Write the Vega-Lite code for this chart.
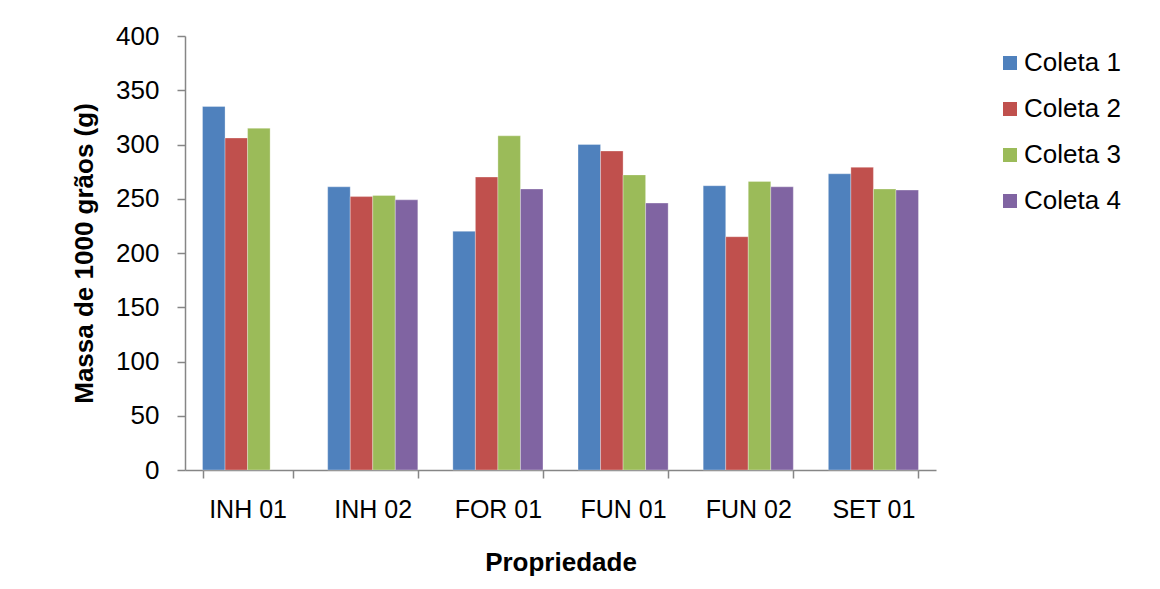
{
  "$schema": "https://vega.github.io/schema/vega-lite/v6.json",
  "autosize": {"type": "none"},
  "width": 751,
  "height": 434,
  "padding": {"left": 185, "top": 36, "right": 224, "bottom": 119},
  "background": "white",
  "data": {
    "values": [
      {"Propriedade": "INH 01", "Coleta": "Coleta 1", "Massa": 335},
      {"Propriedade": "INH 01", "Coleta": "Coleta 2", "Massa": 306},
      {"Propriedade": "INH 01", "Coleta": "Coleta 3", "Massa": 315},
      {"Propriedade": "INH 02", "Coleta": "Coleta 1", "Massa": 261},
      {"Propriedade": "INH 02", "Coleta": "Coleta 2", "Massa": 252},
      {"Propriedade": "INH 02", "Coleta": "Coleta 3", "Massa": 253},
      {"Propriedade": "INH 02", "Coleta": "Coleta 4", "Massa": 249},
      {"Propriedade": "FOR 01", "Coleta": "Coleta 1", "Massa": 220},
      {"Propriedade": "FOR 01", "Coleta": "Coleta 2", "Massa": 270},
      {"Propriedade": "FOR 01", "Coleta": "Coleta 3", "Massa": 308},
      {"Propriedade": "FOR 01", "Coleta": "Coleta 4", "Massa": 259},
      {"Propriedade": "FUN 01", "Coleta": "Coleta 1", "Massa": 300},
      {"Propriedade": "FUN 01", "Coleta": "Coleta 2", "Massa": 294},
      {"Propriedade": "FUN 01", "Coleta": "Coleta 3", "Massa": 272},
      {"Propriedade": "FUN 01", "Coleta": "Coleta 4", "Massa": 246},
      {"Propriedade": "FUN 02", "Coleta": "Coleta 1", "Massa": 262},
      {"Propriedade": "FUN 02", "Coleta": "Coleta 2", "Massa": 215},
      {"Propriedade": "FUN 02", "Coleta": "Coleta 3", "Massa": 266},
      {"Propriedade": "FUN 02", "Coleta": "Coleta 4", "Massa": 261},
      {"Propriedade": "SET 01", "Coleta": "Coleta 1", "Massa": 273},
      {"Propriedade": "SET 01", "Coleta": "Coleta 2", "Massa": 279},
      {"Propriedade": "SET 01", "Coleta": "Coleta 3", "Massa": 259},
      {"Propriedade": "SET 01", "Coleta": "Coleta 4", "Massa": 258}
    ]
  },
  "mark": {"type": "bar", "stroke": "white", "strokeWidth": 0.5, "strokeOpacity": 0.6},
  "encoding": {
    "x": {
      "field": "Propriedade",
      "type": "nominal",
      "sort": ["INH 01", "INH 02", "FOR 01", "FUN 01", "FUN 02", "SET 01"],
      "scale": {"paddingInner": 0.28, "paddingOuter": 0.14},
      "axis": {
        "title": "Propriedade",
        "labelAngle": 0,
        "labelFontSize": 25,
        "labelPadding": 19,
        "titleFontSize": 26,
        "titleFontWeight": "bold",
        "titlePadding": 27,
        "bandPosition": 0,
        "tickBand": "extent"
      }
    },
    "xOffset": {
      "field": "Coleta",
      "type": "nominal",
      "scale": {"paddingInner": 0, "paddingOuter": 0}
    },
    "y": {
      "field": "Massa",
      "type": "quantitative",
      "scale": {"domain": [0, 400]},
      "axis": {
        "title": "Massa de 1000 grãos (g)",
        "values": [0, 50, 100, 150, 200, 250, 300, 350, 400],
        "grid": false,
        "labelFontSize": 26,
        "labelPadding": 18,
        "titleFontSize": 26,
        "titleFontWeight": "bold",
        "titlePadding": 18
      }
    },
    "color": {
      "field": "Coleta",
      "type": "nominal",
      "scale": {
        "domain": ["Coleta 1", "Coleta 2", "Coleta 3", "Coleta 4"],
        "range": ["#4F81BD", "#C0504D", "#9BBB59", "#8064A2"]
      },
      "legend": {
        "title": null,
        "orient": "none",
        "legendX": 812,
        "legendY": 14,
        "symbolType": "square",
        "symbolSize": 196,
        "symbolStrokeWidth": 0,
        "labelFontSize": 26,
        "labelColor": "black",
        "labelOffset": 1,
        "rowPadding": 20
      }
    }
  },
  "config": {
    "font": "Liberation Sans",
    "view": {"stroke": null},
    "axis": {
      "domainColor": "#868686",
      "tickColor": "#868686",
      "tickSize": 8,
      "domainWidth": 1.5,
      "tickWidth": 1.5,
      "labelColor": "black",
      "titleColor": "black",
      "labelFont": "Liberation Sans",
      "titleFont": "Liberation Sans"
    },
    "legend": {"labelFont": "Liberation Sans"}
  }
}
